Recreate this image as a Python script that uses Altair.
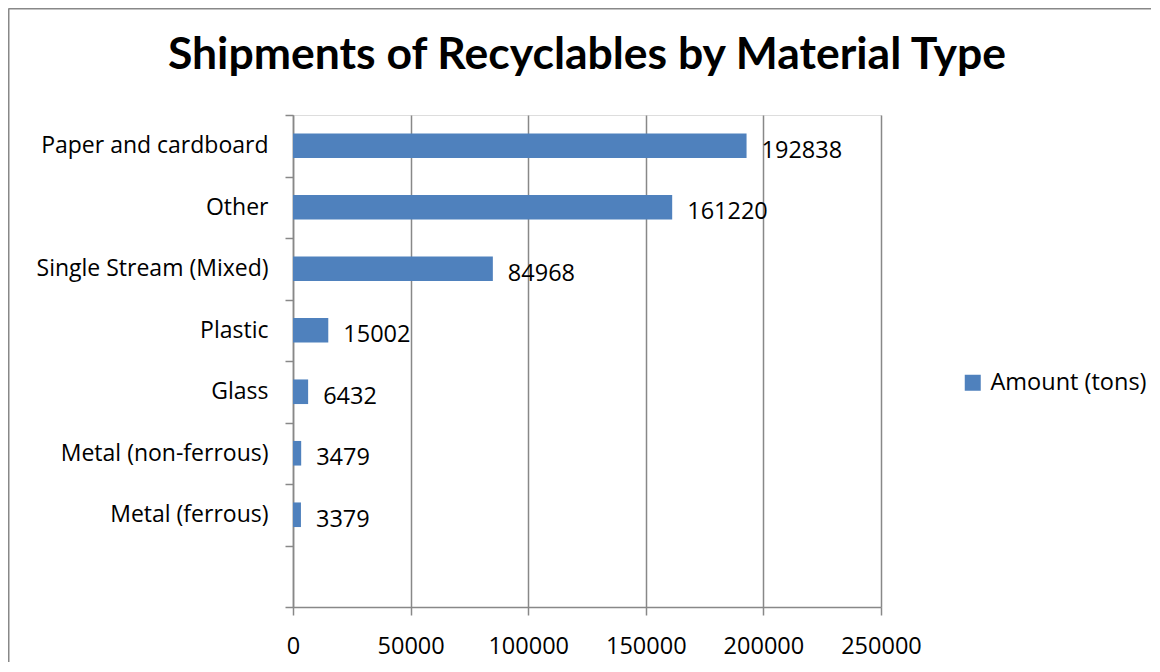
import altair as alt
import pandas as pd

materials = ["Paper and cardboard", "Other", "Single Stream (Mixed)", "Plastic",
             "Glass", "Metal (non-ferrous)", "Metal (ferrous)"]
amounts = [192838, 161220, 84968, 15002, 6432, 3479, 3379]
series_name = "Amount (tons)"
y_domain = materials + [""]
x_ticks = [0, 50000, 100000, 150000, 200000, 250000]

df = pd.DataFrame({"material": materials, "amount": amounts, "series": [series_name] * len(materials)})

FONT = "Open Sans"
TFONT = "Lato"
GRAY = "#888888"
BLUE = "#4F81BD"
FS = 23
FS2 = 23.5

y_enc = alt.Y("material:N", sort=y_domain,
              scale=alt.Scale(domain=y_domain, paddingInner=0, paddingOuter=0),
              axis=alt.Axis(title=None, tickBand="extent", tickSize=8, tickColor=GRAY,
                            domainColor=GRAY, domainWidth=1.5, tickWidth=1.5,
                            labelPadding=17, labelFontSize=FS, labelFont=FONT, labelLimit=400,
                            labelColor="black", grid=False))
x_enc = alt.X("amount:Q",
              scale=alt.Scale(domain=[0, 250000], nice=False),
              axis=alt.Axis(title=None, values=x_ticks, format="d", tickSize=8,
                            tickColor=GRAY, domainColor=GRAY, domainWidth=1.5, tickWidth=1.5,
                            gridColor=GRAY, gridWidth=1.5, grid=True, labelFlush=False,
                            labelOverlap=False,
                            labelPadding=19, labelFontSize=FS2, labelFont=FONT,
                            labelColor="black"))

bars = alt.Chart(df).mark_bar(height=alt.RelativeBandSize(0.4)).encode(
    x=x_enc, y=y_enc,
    color=alt.Color("series:N", scale=alt.Scale(range=[BLUE]),
                    legend=alt.Legend(title=None, orient="none", legendX=668, legendY=256,
                                      symbolType="square", symbolSize=256, symbolStrokeWidth=0,
                                      labelFontSize=FS2, labelFont=FONT, labelColor="black",
                                      labelOffset=6, padding=0, labelLimit=300))
)

labels = alt.Chart(df).mark_text(align="left", baseline="middle", dx=15, dy=5,
                                 fontSize=FS2, font=FONT, color="black").encode(
    x="amount:Q", y=alt.Y("material:N", sort=y_domain), text=alt.Text("amount:Q", format="d")
)

border_df = pd.DataFrame({"k": [0]})
top_line = alt.Chart(border_df).mark_rule(color=GRAY, strokeWidth=2).encode(
    x=alt.value(-284.5), x2=alt.value(870), y=alt.value(-106.5))
left_line = alt.Chart(border_df).mark_rule(color=GRAY, strokeWidth=2).encode(
    x=alt.value(-284.5), y=alt.value(-106.5), y2=alt.value(600))

chart = alt.layer(bars, labels, top_line, left_line).properties(
    width=588, height=492,
    title=alt.Title("Shipments of Recyclables by Material Type", fontSize=44.5, font=TFONT,
                    fontWeight="bold", color="black", anchor="middle", offset=-71),
    autosize=alt.AutoSizeParams(type="none"),
    padding={"left": 285, "top": 107, "right": 270, "bottom": 55},
).configure_view(stroke=None).configure(background="white")

chart.save("out.html", embed_options={"renderer": "svg", "actions": False})
